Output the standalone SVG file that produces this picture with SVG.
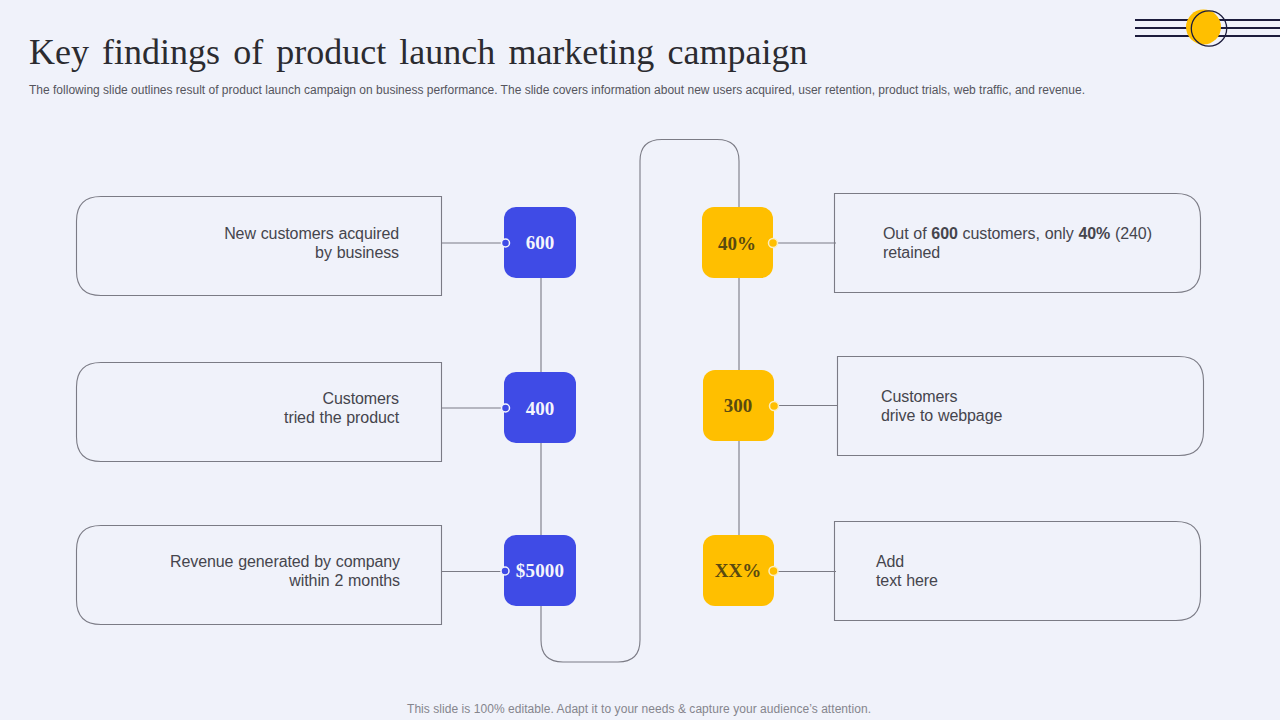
<svg xmlns="http://www.w3.org/2000/svg" width="1280" height="720" viewBox="0 0 1280 720">
<style>
.ln{fill:none;stroke:#7b7b85;stroke-width:1.1}
.card{fill:none;stroke:#7b7b85;stroke-width:1.1}
.t{font-family:"Liberation Sans",Arial,sans-serif;font-size:16px;fill:#45454d;word-spacing:0.5px;letter-spacing:-0.1px}
.b{font-family:"Liberation Serif","Times New Roman",serif;font-size:19px;font-weight:bold;text-anchor:middle}
.e{text-anchor:end}
.blue{fill:#3f4be6}
.yel{fill:#ffbf00}
.dy{fill:#ffbf00;stroke:#fbeec0;stroke-width:1.5}
.db{fill:#3f4be6;stroke:#f4f5fc;stroke-width:1.5}
.w{fill:#f4f5fc}
.k{fill:#5a4a10}
.deco{stroke:#1c1c3c;stroke-width:2;fill:none}
</style>
<rect width="1280" height="720" fill="#f0f2fa"/>
<text x="29" y="64" font-family="Liberation Serif,Times New Roman,serif" font-size="36" fill="#2b2b30" word-spacing="4.1">Key findings of product launch marketing campaign</text>
<text x="29" y="94" font-family="Liberation Sans,Arial,sans-serif" font-size="12" fill="#55555d" textLength="1056" lengthAdjust="spacing">The following slide outlines result of product launch campaign on business performance. The slide covers information about new users acquired, user retention, product trials, web traffic, and revenue.</text>
<g id="decoration">
<path class="deco" d="M1135 20H1280M1135 28H1280M1135 36H1280"/>
<circle cx="1203.500" cy="27" r="17.500" fill="#ffbf00"/>
<circle cx="1209" cy="28.500" r="17.700" fill="none" stroke="#1c1c3c" stroke-width="1.300"/>
</g>
<g id="connectors">
<path class="ln" d="M442 243H505M442 408H505M442 571.500H505"/>
<path class="ln" d="M541 278V372M541 443V535"/>
<path class="ln" d="M541 606V640Q541 662 563 662H618Q640 662 640 640V161Q640 139.500 662 139.500H717Q739 139.500 739 161V207"/>
<path class="ln" d="M739 278V370M739 441V535"/>
<path class="ln" d="M778 243H836M778 405.500H838M778 571.500H836"/>
</g>
<g id="card-1"><path class="card" d="M441.500 196.500V295.500H101Q76.500 295.500 76.500 271V221Q76.500 196.500 101 196.500Z"/>
<text class="t e" x="399" y="239">New customers acquired</text><text class="t e" x="399" y="258">by business</text></g>
<g id="card-2"><path class="card" d="M441.500 362.500V461.500H101Q76.500 461.500 76.500 437V387Q76.500 362.500 101 362.500Z"/>
<text class="t e" x="399" y="404">Customers</text><text class="t e" x="399" y="423">tried the product</text></g>
<g id="card-3"><path class="card" d="M441.500 525.500V624.500H101Q76.500 624.500 76.500 600V550Q76.500 525.500 101 525.500Z"/>
<text class="t e" x="400" y="567">Revenue generated by company</text><text class="t e" x="400" y="586">within 2 months</text></g>
<g id="card-4"><path class="card" d="M834.500 193.500V292.500H1176Q1200.500 292.500 1200.500 268V218Q1200.500 193.500 1176 193.500Z"/>
<text class="t" x="883" y="239">Out of <tspan font-weight="bold">600</tspan> customers, only <tspan font-weight="bold">40%</tspan> (240)</text><text class="t" x="883" y="258">retained</text></g>
<g id="card-5"><path class="card" d="M837.500 356.500V455.500H1179Q1203.500 455.500 1203.500 431V381Q1203.500 356.500 1179 356.500Z"/>
<text class="t" x="881" y="402">Customers</text><text class="t" x="881" y="421">drive to webpage</text></g>
<g id="card-6"><path class="card" d="M834.500 521.500V620.500H1176Q1200.500 620.500 1200.500 596V546Q1200.500 521.500 1176 521.500Z"/>
<text class="t" x="876" y="567">Add</text><text class="t" x="876" y="586">text here</text></g>
<g id="node-600"><rect class="blue" x="504" y="207" width="72" height="71" rx="12"/><circle class="db" cx="505.500" cy="243" r="4"/><text class="b w" x="540" y="249">600</text></g>
<g id="node-400"><rect class="blue" x="504" y="372" width="72" height="71" rx="12"/><circle class="db" cx="505.500" cy="408" r="4"/><text class="b w" x="540" y="415">400</text></g>
<g id="node-5000"><rect class="blue" x="504" y="535" width="72" height="71" rx="12"/><circle class="db" cx="505" cy="571" r="4"/><text class="b w" x="540" y="577" letter-spacing="0.2">$5000</text></g>
<g id="node-40"><rect class="yel" x="702" y="207" width="71" height="71" rx="12"/><circle class="dy" cx="773" cy="243" r="4.500"/><text class="b k" x="737" y="250">40%</text></g>
<g id="node-300"><rect class="yel" x="703" y="370" width="71" height="71" rx="12"/><circle class="dy" cx="774" cy="406" r="4.500"/><text class="b k" x="738" y="412">300</text></g>
<g id="node-xx"><rect class="yel" x="703" y="535" width="71" height="71" rx="12"/><circle class="dy" cx="773.500" cy="571" r="4.500"/><text class="b k" x="738" y="577">XX%</text></g>
<text x="639" y="713" text-anchor="middle" font-family="Liberation Sans,Arial,sans-serif" font-size="12" fill="#85858d" textLength="464" lengthAdjust="spacing">This slide is 100% editable. Adapt it to your needs &amp; capture your audience’s attention.</text>
</svg>
